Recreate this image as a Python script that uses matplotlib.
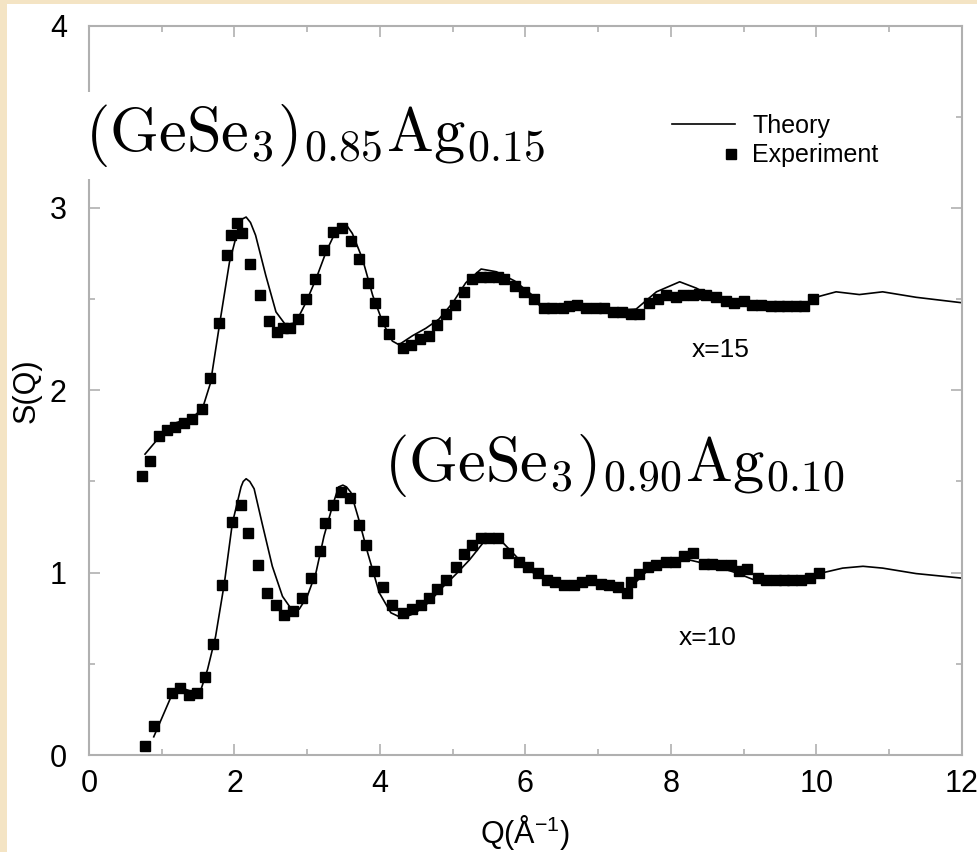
import matplotlib
matplotlib.use("Agg")
import matplotlib.pyplot as plt
from matplotlib.lines import Line2D
from matplotlib.legend_handler import HandlerLine2D
from matplotlib.patches import Rectangle
from matplotlib.ticker import MultipleLocator

# x=15 : (GeSe3)0.85Ag0.15  (experiment)
q_exp15 = [0.73, 0.84, 0.96, 1.07, 1.18, 1.31, 1.42, 1.55, 1.67, 1.79, 1.90, 1.95, 2.03, 2.10,
           2.22, 2.35, 2.47, 2.58, 2.67, 2.76, 2.87, 2.98, 3.10, 3.23, 3.36, 3.48, 3.60, 3.71,
           3.83, 3.93, 4.04, 4.13, 4.31, 4.42, 4.55, 4.68, 4.79, 4.91, 5.03, 5.16, 5.27, 5.39,
           5.50, 5.62, 5.71, 5.85, 5.98, 6.12, 6.26, 6.37, 6.51, 6.60, 6.71, 6.83, 6.97, 7.08,
           7.20, 7.33, 7.45, 7.56, 7.70, 7.82, 7.93, 8.07, 8.16, 8.30, 8.39, 8.48, 8.62, 8.76,
           8.87, 9.01, 9.12, 9.24, 9.38, 9.49, 9.60, 9.72, 9.83, 9.95]
s_exp15 = [1.53, 1.61, 1.75, 1.78, 1.80, 1.82, 1.84, 1.90, 2.07, 2.37, 2.74, 2.85, 2.92, 2.86,
           2.69, 2.52, 2.38, 2.32, 2.34, 2.34, 2.39, 2.50, 2.61, 2.77, 2.87, 2.89, 2.82, 2.72,
           2.59, 2.48, 2.38, 2.31, 2.23, 2.25, 2.28, 2.30, 2.36, 2.42, 2.47, 2.54, 2.61, 2.62,
           2.62, 2.62, 2.61, 2.57, 2.54, 2.50, 2.45, 2.45, 2.45, 2.46, 2.47, 2.45, 2.45, 2.45,
           2.43, 2.43, 2.42, 2.42, 2.48, 2.50, 2.52, 2.51, 2.52, 2.52, 2.53, 2.52, 2.51, 2.49,
           2.48, 2.49, 2.47, 2.47, 2.46, 2.46, 2.46, 2.46, 2.46, 2.50]

# x=15 theory
q_th15 = [0.77, 0.96, 1.18, 1.42, 1.56, 1.67, 1.79, 1.93, 2.06, 2.11, 2.16, 2.22, 2.29, 2.43,
          2.57, 2.70, 2.84, 2.98, 3.12, 3.26, 3.39, 3.44, 3.49, 3.55, 3.62, 3.76, 3.90, 4.04,
          4.17, 4.26, 4.45, 4.63, 4.81, 5.00, 5.18, 5.39, 5.60, 5.85, 6.10, 6.20, 6.42, 6.78,
          7.24, 7.52, 7.80, 8.12, 8.35, 8.53, 8.85, 9.30, 9.81, 9.99, 10.27, 10.59, 10.91,
          11.37, 12.00]
s_th15 = [1.65, 1.74, 1.82, 1.85, 1.90, 2.04, 2.35, 2.70, 2.90, 2.94, 2.95, 2.92, 2.85, 2.63,
          2.43, 2.36, 2.37, 2.48, 2.61, 2.76, 2.87, 2.90, 2.91, 2.90, 2.86, 2.72, 2.52, 2.37,
          2.27, 2.25, 2.30, 2.34, 2.39, 2.48, 2.59, 2.665, 2.65, 2.60, 2.52, 2.46, 2.43, 2.45,
          2.44, 2.445, 2.54, 2.595, 2.56, 2.52, 2.49, 2.47, 2.46, 2.51, 2.54, 2.525, 2.54,
          2.51, 2.48]

# x=10 : (GeSe3)0.90Ag0.10  (experiment)
q_exp10 = [0.77, 0.89, 1.14, 1.25, 1.37, 1.49, 1.60, 1.71, 1.83, 1.96, 2.09, 2.19, 2.33, 2.44,
           2.57, 2.68, 2.80, 2.93, 3.05, 3.18, 3.24, 3.36, 3.46, 3.59, 3.71, 3.81, 3.92, 4.04,
           4.16, 4.31, 4.44, 4.56, 4.68, 4.79, 4.91, 5.04, 5.16, 5.27, 5.39, 5.50, 5.62, 5.76,
           5.91, 6.04, 6.17, 6.29, 6.41, 6.53, 6.67, 6.78, 6.90, 7.04, 7.15, 7.27, 7.40, 7.45,
           7.56, 7.69, 7.80, 7.93, 8.06, 8.18, 8.30, 8.46, 8.57, 8.69, 8.83, 8.94, 9.05, 9.19,
           9.31, 9.44, 9.56, 9.67, 9.79, 9.91, 10.03]
s_exp10 = [0.05, 0.16, 0.34, 0.37, 0.33, 0.34, 0.43, 0.61, 0.93, 1.28, 1.37, 1.22, 1.04, 0.89,
           0.82, 0.77, 0.79, 0.86, 0.97, 1.12, 1.27, 1.37, 1.44, 1.41, 1.26, 1.15, 1.01, 0.92,
           0.82, 0.78, 0.80, 0.82, 0.86, 0.91, 0.96, 1.03, 1.10, 1.15, 1.19, 1.19, 1.19, 1.11,
           1.06, 1.03, 1.00, 0.96, 0.95, 0.93, 0.93, 0.95, 0.96, 0.94, 0.93, 0.92, 0.89, 0.95,
           0.99, 1.03, 1.04, 1.06, 1.06, 1.09, 1.11, 1.05, 1.05, 1.04, 1.04, 1.01, 1.02, 0.97,
           0.96, 0.96, 0.96, 0.96, 0.96, 0.97, 1.00]

# x=10 theory
q_th10 = [0.89, 1.15, 1.26, 1.40, 1.54, 1.63, 1.74, 1.86, 1.97, 2.09, 2.12, 2.16, 2.21, 2.27,
          2.38, 2.52, 2.66, 2.80, 2.89, 3.00, 3.12, 3.23, 3.35, 3.43, 3.49, 3.54, 3.60, 3.71,
          3.83, 3.99, 4.15, 4.31, 4.49, 4.68, 4.86, 5.04, 5.23, 5.41, 5.55, 5.64, 5.87, 6.05,
          6.33, 6.56, 6.88, 7.10, 7.33, 7.47, 7.70, 7.98, 8.25, 8.57, 8.89, 9.21, 9.53, 9.81,
          10.09, 10.36, 10.64, 10.91, 11.37, 12.00]
s_th10 = [0.10, 0.34, 0.37, 0.35, 0.36, 0.47, 0.65, 0.94, 1.27, 1.47, 1.50, 1.515, 1.50, 1.46,
          1.27, 1.035, 0.87, 0.79, 0.80, 0.87, 1.00, 1.20, 1.37, 1.47, 1.48, 1.47, 1.44, 1.29,
          1.11, 0.89, 0.78, 0.75, 0.78, 0.84, 0.92, 0.99, 1.07, 1.16, 1.185, 1.185, 1.09, 1.01,
          0.96, 0.94, 0.95, 0.925, 0.90, 0.93, 1.02, 1.06, 1.07, 1.04, 1.00, 0.95, 0.94, 0.95,
          1.00, 1.025, 1.035, 1.025, 0.995, 0.97]

plt.rcParams['font.family'] = ['Liberation Sans', 'DejaVu Sans']
plt.rcParams['mathtext.fontset'] = 'custom'
plt.rcParams['mathtext.rm'] = 'Liberation Sans'
plt.rcParams['mathtext.it'] = 'Liberation Sans:italic'

fig = plt.figure(figsize=(9.78, 8.52), dpi=100, facecolor='#f4e4c4')
# white sheet behind the plot
fig.patches.append(Rectangle((7 / 978, 0), 1, 1 - 4 / 852, transform=fig.transFigure,
                             facecolor='white', edgecolor='none', zorder=-5))
ax = fig.add_axes([0.091, 0.1138, 0.8926, 0.8562])
ax.set_zorder(1)
ax.set_facecolor('white')

ax.plot(q_th15, s_th15, color='black', lw=1.2)
ax.plot(q_exp15, s_exp15, ls='none', marker='s', ms=6.8, color='black')
ax.plot(q_th10, s_th10, color='black', lw=1.2)
ax.plot(q_exp10, s_exp10, ls='none', marker='s', ms=6.8, color='black')

ax.set_xlim(0, 12)
ax.set_ylim(0, 4)
ax.xaxis.set_major_locator(MultipleLocator(2))
ax.xaxis.set_minor_locator(MultipleLocator(1))
ax.yaxis.set_major_locator(MultipleLocator(1))
ax.yaxis.set_minor_locator(MultipleLocator(0.5))
ax.tick_params(which='both', direction='in', top=True, right=True, color='#b0b0b0',
               labelsize=22, width=1.2)
ax.tick_params(axis='x', pad=10)
ax.tick_params(axis='y', pad=16)
ax.tick_params(which='major', length=8)
ax.tick_params(which='minor', length=4)
for sp in ax.spines.values():
    sp.set_color('#b0b0b0')
    sp.set_linewidth(1.5)

ax.set_xlabel('Q(Å$^{-1}$)', fontsize=22, labelpad=10)
ax.set_ylabel('S(Q)', fontsize=22, labelpad=6)

ax.text(-0.05, 3.313, r'$\mathrm{(GeSe_3)_{0.85}Ag_{0.15}}$', fontsize=45, math_fontfamily='cm',
        ha='left', va='baseline', clip_on=False,
        bbox=dict(facecolor='white', edgecolor='none', pad=7))
ax.text(4.06, 1.505, r'$\mathrm{(GeSe_3)_{0.90}Ag_{0.10}}$', fontsize=45, math_fontfamily='cm',
        ha='left', va='baseline')
ax.text(8.68, 2.22, 'x=15', fontsize=19, ha='center', va='center')
ax.text(8.5, 0.64, 'x=10', fontsize=19, ha='center', va='center')


class RightMarker(HandlerLine2D):
    # put the single legend marker at the right end of the handle box
    def get_xdata(self, legend, xdescent, ydescent, width, height, fontsize):
        x_end = -xdescent + width
        xdata = [x_end - 0.3 * fontsize, x_end]
        return xdata, [x_end - 0.15 * fontsize]


h_th = Line2D([], [], color='black', lw=1.2)
h_ex = Line2D([], [], ls='none', marker='s', ms=6.8, color='black')
ax.legend([h_th, h_ex], ['Theory', 'Experiment'], loc='upper left',
          bbox_to_anchor=(0.654, 0.896), frameon=False, fontsize=18, handlelength=2.5,
          handletextpad=0.7, labelspacing=0.22, borderpad=0,
          handler_map={h_ex: RightMarker(), h_th: HandlerLine2D()})

fig.savefig('out.png', dpi=100, facecolor=fig.get_facecolor())
